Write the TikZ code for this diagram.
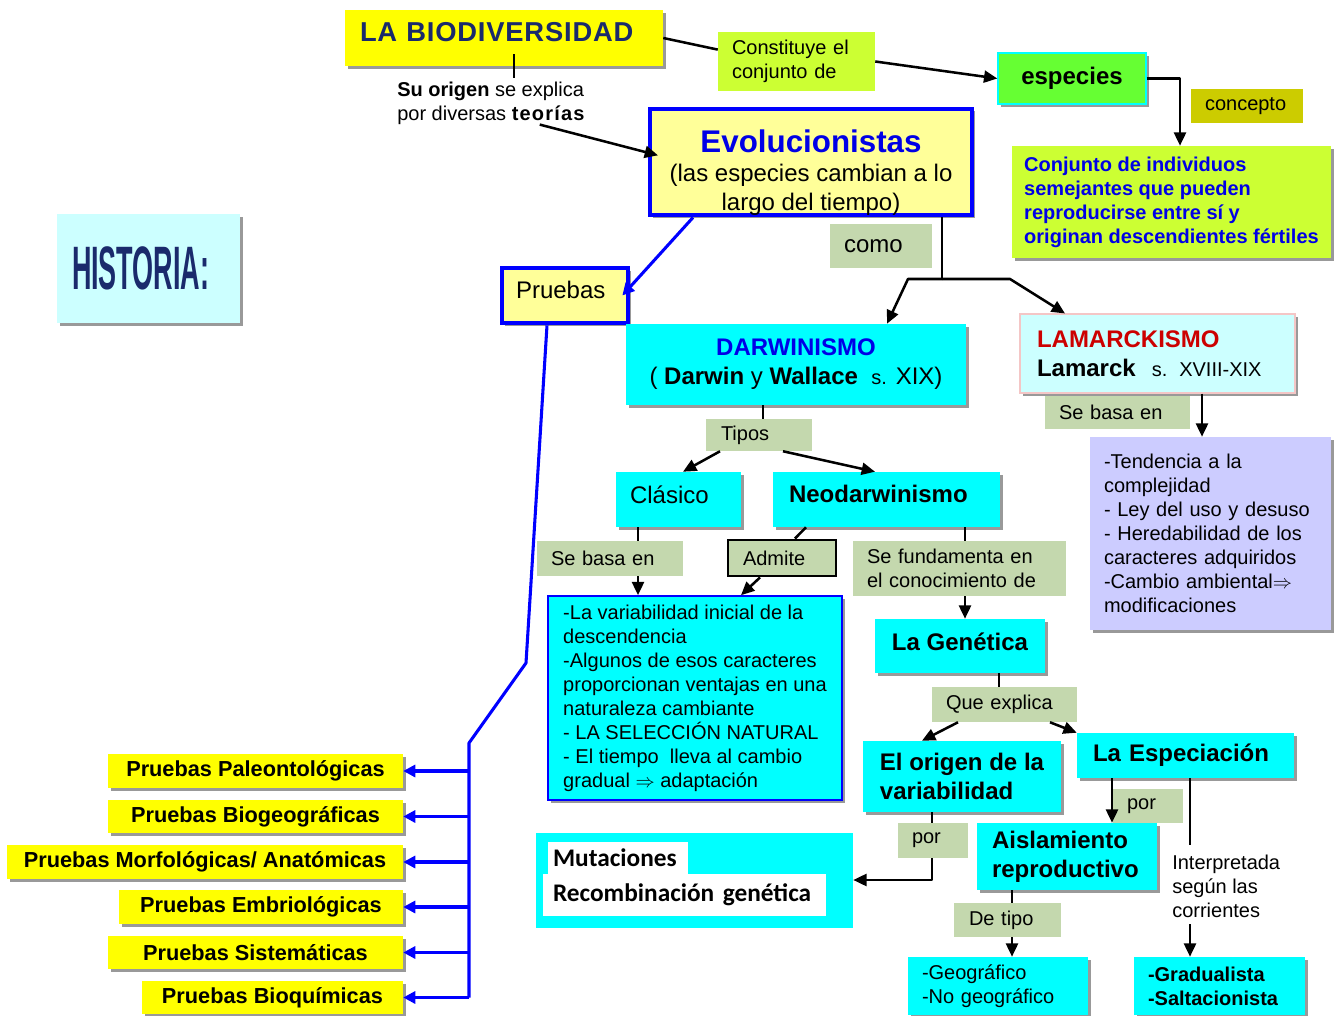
\documentclass[tikz,border=0pt]{standalone}
\usepackage{fontspec}
\usepackage{graphicx}
\setmainfont{Liberation Sans}
\newfontfamily\calfont{Carlito}
\usetikzlibrary{arrows.meta,shadows,calc}
\definecolor{yel}{HTML}{FFFF00}
\definecolor{lyel}{HTML}{FFFF99}
\definecolor{lime}{HTML}{CCFF33}
\definecolor{grn}{HTML}{66FF33}
\definecolor{oliv}{HTML}{CCCC00}
\definecolor{sage}{HTML}{C4D8AE}
\definecolor{cyn}{HTML}{00FFFF}
\definecolor{lcyn}{HTML}{CCFFFF}
\definecolor{lav}{HTML}{CCCCFF}
\definecolor{navy}{HTML}{1A2A6C}
\definecolor{blu}{HTML}{0000FF}
\definecolor{tblue}{HTML}{0000E6}
\definecolor{redd}{HTML}{CC0000}
\definecolor{pinkb}{HTML}{F4C6C6}
\newcommand\fSm{\fontsize{15}{18}\selectfont}
\newcommand\fBg{\fontsize{18}{21.75}\selectfont}
\newcommand\bigimp{$\Rightarrow$}
\begin{document}
\begin{tikzpicture}[x=0.75pt,y=-0.75pt,
  bx/.style n args={4}{at={({(#1+#3)/2},{(#2+#4)/2})},
     minimum width={(#3-#1)*0.75pt}, minimum height={(#4-#2)*0.75pt},
     inner sep=0pt, align=center},
  lx/.style n args={5}{bx={#1}{#2}{#3}{#4}, align=left,
     text width={(#3-#1-2*#5)*0.75pt}},
  shd/.style={drop shadow={shadow xshift=2.2pt,shadow yshift=-2.2pt,fill=black!40,opacity=1}},
  lbl/.style={fill=sage, font=\fSm},
  cy/.style={fill=cyn, shd},
  pr/.style={fill=yel, shd, font=\fontsize{16.3}{19}\selectfont\bfseries},
  ln/.style={line width=1.9pt, black, line join=round},
  arr/.style={ln, -{Triangle[length=10pt,width=9pt]}},
  bln/.style={line width=2.3pt, blu, line join=round},
  barr/.style={bln, -{Triangle[length=9pt,width=9pt]}}]
\fill[white] (0,0) rectangle (1336,1016);
\useasboundingbox (0,0) rectangle (1336,1016);

% ---- top
\node[lx={345}{10}{663}{66}{15}, fill=yel, shd, text=navy,
  font=\fontsize{20.5}{24}\selectfont\bfseries\addfontfeature{LetterSpace=3}] (bio) {\rule[-9pt]{0pt}{0pt}LA BIODIVERSIDAD};
\node[lx={718}{32}{875}{91}{14}, fill=lime, font=\fSm] (cons) {Constituye el\\conjunto de};
\node[bx={998}{53}{1146}{104}, fill=grn, draw=cyn, line width=1pt, shd, font=\fBg\bfseries] (esp) {especies};
\node[lx={1191}{89}{1303}{123}{14}, fill=oliv, font=\fSm] (conc) {concepto};
\node[bx={1012}{146}{1331}{258}, fill=lime, shd, align=left, text=tblue, font=\fSm\bfseries] (conj)
  {Conjunto de individuos\\semejantes que pueden\\reproducirse entre sí y\\originan descendientes fértiles};
\node[lx={57}{214}{240}{323}{15}, fill=lcyn, shd, text=navy] (hist)
  {\scalebox{0.44}[1]{\fontsize{46}{50}\selectfont\bfseries HISTORIA:}};
\node[align=left, inner sep=0pt, anchor=west, font=\fSm] (orig) at (397,103)
  {\textbf{Su origen} se explica\\por diversas {\bfseries\addfontfeature{LetterSpace=6}teorías}};
\node[bx={650}{111}{972}{213}, fill=lyel, draw=blu, line width=3pt, shd, font=\fBg] (evo)
  {{\fontsize{23.5}{28}\selectfont\bfseries\color{tblue}\rule{0pt}{33pt}Evolucionistas}\\[0pt](las especies cambian a lo\\largo del tiempo)};
\node[lx={830}{224}{932}{268}{14}, fill=sage, font=\fBg] (como) {como};
\node[lx={502}{268}{628}{323}{14}, fill=lyel, draw=blu, line width=3.5pt, shd, font=\fBg] (prb) {\rule[-8pt]{0pt}{0pt}Pruebas};

% ---- darwinismo / lamarckismo
\node[bx={626}{324}{966}{405}, cy, font=\fBg] (darw)
  {{\bfseries\color{tblue}DARWINISMO}\\( \textbf{Darwin} y \textbf{Wallace} \ {\fSm s.} XIX)};
\node[lx={1020}{314}{1295}{393}{17}, fill=lcyn, draw=pinkb, line width=0.8pt, shd, font=\fBg] (lam)
  {{\bfseries\color{redd}LAMARCKISMO}\\\textbf{Lamarck} \ {\fSm s. XVIII-XIX}};
\node[lx={1045}{396}{1190}{429}{14}, lbl] (sb2) {Se basa en};
\node[lx={1090}{437}{1331}{630}{14}, fill=lav, shd, font=\fSm] (purp)
  {-Tendencia a la\\complejidad\\- Ley del uso y desuso\\- Heredabilidad de los\\caracteres adquiridos\\-Cambio ambiental\bigimp\\modificaciones};

\node[lx={706}{419}{812}{451}{15}, lbl] (tipos) {Tipos};
\node[lx={616}{472}{741}{527}{14}, cy, font=\fBg] (clas) {\rule[-8pt]{0pt}{0pt}Clásico};
\node[lx={773}{472}{1000}{527}{16}, cy, font=\fBg\bfseries] (neo) {\rule[-8pt]{0pt}{0pt}Neodarwinismo};
\node[lx={537}{541}{683}{576}{14}, lbl] (sb1) {Se basa en};
\node[lx={728}{540}{836}{576}{15}, lbl, draw=black, line width=2.2pt] (adm) {Admite};
\node[lx={853}{541}{1066}{596}{14}, lbl] (sf) {Se fundamenta en\\el conocimiento de};
\node[bx={548}{596}{842}{800}, cy, draw=blu, line width=1.2pt, align=left, font=\fSm] (big)
  {-La variabilidad inicial de la\\descendencia\\-Algunos de esos caracteres\\proporcionan ventajas en una\\naturaleza cambiante\\- LA SELECCIÓN NATURAL\\- El tiempo \ lleva al cambio\\gradual \bigimp{} adaptación};
\node[bx={875}{619}{1045}{673}, cy, font=\fBg\bfseries] (gen) {\rule[-6pt]{0pt}{0pt}La Genética};
\node[lx={932}{687}{1077}{722}{14}, lbl] (qe) {Que explica};
\node[bx={863}{741}{1061}{812}, cy, align=left, font=\fBg\bfseries] (orig2) {El origen de la\\variabilidad};
\node[lx={1077}{733}{1294}{778}{16}, cy, font=\fBg\bfseries] (esp2) {La Especiación};
\node[lx={898}{823}{968}{858}{14}, lbl] (por1) {por};
\node[lx={1113}{789}{1183}{823}{14}, lbl] (por2) {por};
\node[lx={977}{823}{1157}{890}{15}, cy, font=\fBg\bfseries] (ais) {Aislamiento\\reproductivo};
\node[align=left, inner sep=0pt, anchor=north west, font=\fSm] (interp) at (1172,855)
  {Interpretada\\según las\\corrientes};
\node[lx={954}{903}{1061}{937}{15}, lbl] (dt) {De tipo};
\node[lx={908}{957}{1088}{1015}{14}, cy, font=\fSm] (geo) {-Geográfico\\-No geográfico};
\node[lx={1134}{957}{1305}{1015}{14}, cy, font=\fSm\bfseries] (grad) {-Gradualista\\-Saltacionista};

\node[bx={536}{833}{853}{928}, fill=cyn] (mut) {};
\node[lx={548}{842}{688}{874}{5}, fill=white, font=\calfont\bfseries\fontsize{19}{22}\selectfont] (mut1) {Mutaciones};
\node[lx={543}{874}{826}{916}{10}, fill=white, font=\calfont\bfseries\fontsize{19}{22}\selectfont] (mut2) {Recombinación genética};

% ---- pruebas
\node[bx={108}{754}{403}{788}, pr] (pal) {Pruebas Paleontológicas};
\node[bx={108}{800}{403}{833}, pr] (bgeo) {Pruebas Biogeográficas};
\node[bx={7}{845}{403}{879}, pr] (morf) {Pruebas Morfológicas/ Anatómicas};
\node[bx={119}{890}{403}{924}, pr] (emb) {Pruebas Embriológicas};
\node[bx={108}{936}{403}{969}, pr] (sis) {Pruebas Sistemáticas};
\node[bx={142}{981}{403}{1014}, pr] (bq) {Pruebas Bioquímicas};

% ---- connectors
\draw[ln] (bio.east) -- ($(cons.north west)!0.3!(cons.south west)$);
\draw[arr] (cons.east) -- (esp.west);
\draw[arr] (esp.east) -| (conj.north -| 1180,0);
\draw[ln] ($(bio.south -| 514,0)+(0,-12)$) -- ($(orig.north -| 514,0)+(0,-3)$);
\draw[arr] ($(orig.south west)!0.76!(orig.south east)$) -- ([xshift=7.5pt,yshift=5pt]evo.west);

\coordinate (jn) at (942,279);
\coordinate (jl) at (908,279);
\coordinate (jr) at (1010,279);
\draw[ln] (evo.south -| jn) -- (jn);
\draw[arr] (jn) -- (jl) -- (darw.north -| 887,0);
\draw[arr] (jn) -- (jr) -- (lam.north -| 1065,0);

\draw[barr] (evo.south -| 693,0) -- ([xshift=-6pt]prb.east);
\coordinate (b1) at (526,663);
\coordinate (b2) at (469,743);
\draw[bln] (prb.south -| 547,0) -- (b1) -- (b2) -- (b2 |- bq.east);
\foreach \n in {pal,bgeo,morf,emb,sis,bq}{
  \draw[barr] (b2 |- \n.east) -- (\n.east);
}

\draw[arr] (lam.south -| 1202,0) -- (purp.north -| 1202,0);
\draw[ln] (darw.south -| 763,0) -- (tipos.north -| 763,0);
\draw[arr] (tipos.south -| 720,0) -- (clas.north -| 683,0);
\draw[arr] (tipos.south -| 783,0) -- (neo.north -| 875,0);
\draw[ln] (clas.south -| 638,0) -- (sb1.north -| 638,0);
\draw[arr] (sb1.south -| 638,0) -- (big.north -| 638,0);
\draw[ln] (neo.south -| 806,0) -- (adm.north -| 795,0);
\draw[arr] (adm.south -| 760,0) -- (big.north -| 741,0);
\draw[ln] (neo.south -| 965,0) -- (sf.north -| 965,0);
\draw[arr] (sf.south -| 965,0) -- (gen.north -| 965,0);
\draw[ln] (gen.south -| 999,0) -- (qe.north -| 999,0);
\draw[arr] (qe.south -| 958,0) -- (orig2.north -| 922,0);
\draw[arr] (qe.south -| 1050,0) -- (esp2.north west);
\draw[ln] (orig2.south -| 932,0) -- (por1.north -| 932,0);
\coordinate (pm) at (932,880);
\draw[arr] (por1.south -| pm) -- (pm) -- (mut.east |- pm);
\draw[arr] (esp2.south -| 1112,0) -- (ais.north -| 1112,0);
\draw[ln] (esp2.south -| 1190,0) -- ($(interp.north -| 1190,0)+(0,-10)$);
\draw[arr] ($(interp.south -| 1190,0)+(0,6)$) -- (grad.north -| 1190,0);
\draw[ln] (ais.south -| 1012,0) -- (dt.north -| 1012,0);
\draw[arr] (dt.south -| 1012,0) -- (geo.north -| 1012,0);
\end{tikzpicture}
\end{document}
